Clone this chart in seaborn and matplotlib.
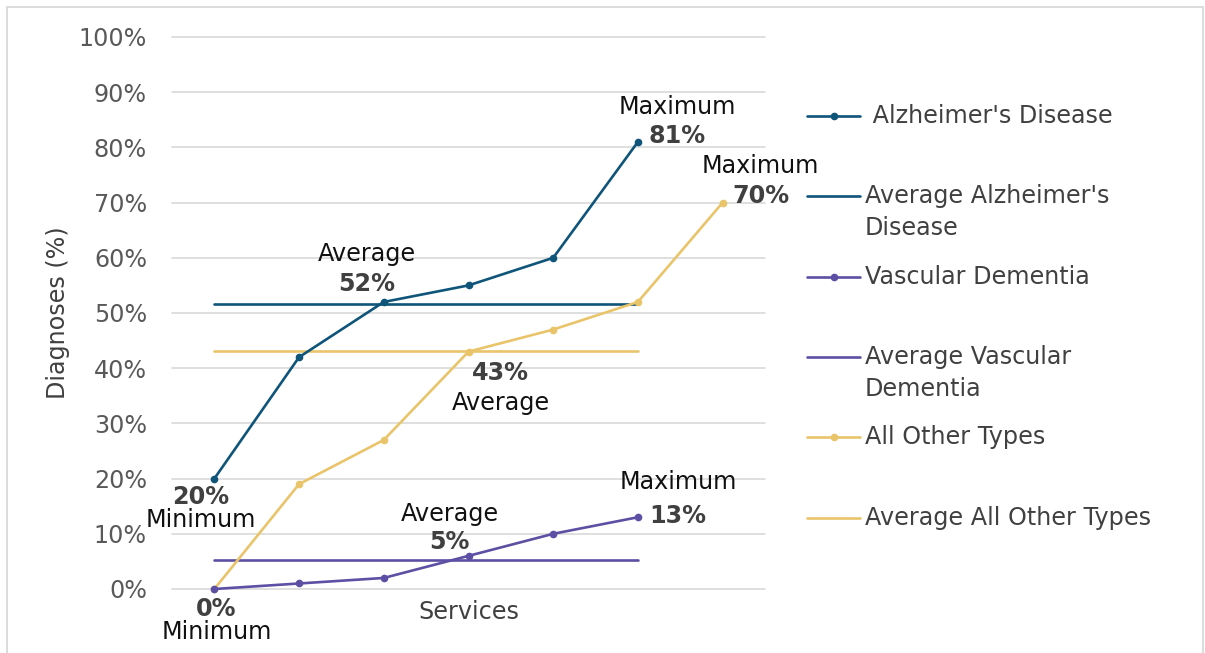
import matplotlib
matplotlib.use("Agg")
import matplotlib.pyplot as plt
from matplotlib.lines import Line2D
from matplotlib.patches import Rectangle
import seaborn as sns
import pandas as pd

# ---- data ----
alz_x = [0, 1, 2, 3, 4, 5]
alz_vals = [20, 42, 52, 55, 60, 81]
vasc_x = [0, 1, 2, 3, 4, 5]
vasc_vals = [0, 1, 2, 6, 10, 13]
other_x = [0, 1, 2, 3, 4, 5, 6]
other_vals = [0, 19, 27, 43, 47, 52, 70]
avg_x = [0, 5]
avg_alz = 51.7
avg_vasc = 5.3
avg_other = 43.1
series_names = [" Alzheimer's Disease", "Average Alzheimer's\nDisease", "Vascular Dementia",
                "Average Vascular\nDementia", "All Other Types", "Average All Other Types"]
yticks = [0, 10, 20, 30, 40, 50, 60, 70, 80, 90, 100]

C_ALZ = "#0f5479"
C_VASC = "#5d4fa3"
C_OTH = "#e9c46a"
C_TXT = "#404040"
FS = 17.2

sns.set_theme(style="white")
plt.rcParams['font.family'] = ['DejaVu Sans']

fig = plt.figure(figsize=(12.05, 6.53), dpi=100)
ax = fig.add_axes([172/1205, 1-589/653, (765-172)/1205, (589-37)/653])

df_alz = pd.DataFrame({"x": alz_x, "y": alz_vals})
df_vasc = pd.DataFrame({"x": vasc_x, "y": vasc_vals})
df_oth = pd.DataFrame({"x": other_x, "y": other_vals})
df_aa = pd.DataFrame({"x": avg_x, "y": [avg_alz]*2})
df_av = pd.DataFrame({"x": avg_x, "y": [avg_vasc]*2})
df_ao = pd.DataFrame({"x": avg_x, "y": [avg_other]*2})

lw = 1.9
ms = 5.5
sns.lineplot(data=df_aa, x="x", y="y", ax=ax, color=C_ALZ, lw=lw, zorder=3)
sns.lineplot(data=df_ao, x="x", y="y", ax=ax, color=C_OTH, lw=lw, zorder=3)
sns.lineplot(data=df_av, x="x", y="y", ax=ax, color=C_VASC, lw=lw, zorder=3)
sns.lineplot(data=df_oth, x="x", y="y", ax=ax, color=C_OTH, lw=lw, marker="o",
             markersize=ms, markeredgewidth=0, zorder=4)
sns.lineplot(data=df_alz, x="x", y="y", ax=ax, color=C_ALZ, lw=lw, marker="o",
             markersize=ms, markeredgewidth=0, zorder=5)
sns.lineplot(data=df_vasc, x="x", y="y", ax=ax, color=C_VASC, lw=lw, marker="o",
             markersize=ms, markeredgewidth=0, zorder=5)
for l in ax.lines:
    l.set_clip_on(False)

ax.set_xlim(-0.5, 6.5)
ax.set_ylim(0, 100)
ax.set_yticks(yticks)
ax.set_yticklabels([f"{v}%" for v in yticks])
ax.set_xticks([])
ax.grid(axis="y", color="#d9d9d9", lw=1.2)
ax.set_axisbelow(True)
for gl in ax.get_ygridlines():
    gl.set_clip_on(False)
for s in ax.spines.values():
    s.set_visible(False)
ax.tick_params(axis="y", length=0, pad=18, labelsize=FS, labelcolor="#595959")
ax.set_xlabel("Services", fontsize=FS, color="#404040", labelpad=8)
ax.set_ylabel("Diagnoses (%)", fontsize=FS, color="#404040", labelpad=6)

# ---- data labels ----
def lab(x, y, word, num, dx, dy_word, dy_num):
    ax.annotate(word, xy=(x, y), xytext=(dx, dy_word), textcoords="offset pixels",
                ha="center", va="center", fontsize=FS, color="#111111",
                annotation_clip=False, zorder=6)
    ax.annotate(num, xy=(x, y), xytext=(dx, dy_num), textcoords="offset pixels",
                ha="center", va="center", fontsize=FS, fontweight="bold", color=C_TXT,
                annotation_clip=False, zorder=6)

lab(alz_x[5], alz_vals[5], "Maximum", f"{alz_vals[5]}%", 39, 35, 6)
lab(other_x[6], other_vals[6], "Maximum", f"{other_vals[6]}%", 38, 37, 7)
lab(2, avg_alz, "Average", f"{round(avg_alz)}%", -17, 50, 20)
lab(3, avg_other, "Average", f"{round(avg_other)}%", 32, -52, -22)
lab(alz_x[0], alz_vals[0], "Minimum", f"{alz_vals[0]}%", -14, -41, -18)
lab(3, avg_vasc, "Average", f"{round(avg_vasc)}%", -19, 46, 18)
lab(vasc_x[5], vasc_vals[5], "Maximum", f"{vasc_vals[5]}%", 40, 35, 1)
lab(other_x[0], other_vals[0], "Minimum", f"{other_vals[0]}%", 2, -43, -20)

# ---- legend (manual) ----
leg_y = [116, 196, 277, 357, 437, 518]
leg_col = [C_ALZ, C_ALZ, C_VASC, C_VASC, C_OTH, C_OTH]
leg_mark = [True, False, True, False, True, False]
for name, yy, col, mk in zip(series_names, leg_y, leg_col, leg_mark):
    fy = 1 - yy/653
    fig.add_artist(Line2D([807/1205, 860/1205], [fy, fy], color=col, lw=lw,
                          transform=fig.transFigure))
    if mk:
        fig.add_artist(Line2D([833.5/1205], [fy], color=col, marker="o", markersize=ms,
                              markeredgewidth=0, transform=fig.transFigure))
    if "\n" in name:
        fig.text(865/1205, fy + 12/653, name, ha="left", va="top", fontsize=FS,
                 color=C_TXT, linespacing=1.4)
    else:
        fig.text(865/1205, fy, name, ha="left", va="center", fontsize=FS, color=C_TXT)

# chart border
fig.add_artist(Rectangle((7/1205, -0.01), (1203-7)/1205, 1 - 7/653 + 0.01,
                         fill=False, edgecolor="#d9d9d9", lw=1.3, transform=fig.transFigure))

fig.savefig("out.png", dpi=100)
